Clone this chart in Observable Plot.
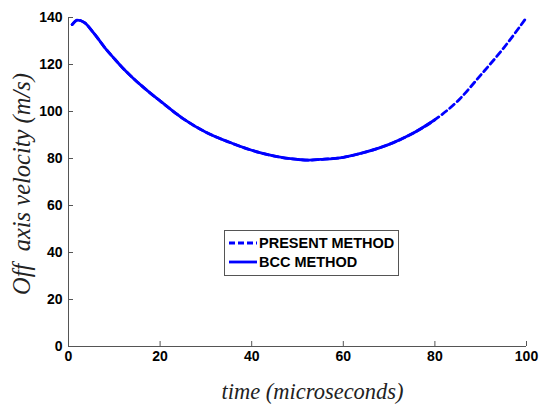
<!DOCTYPE html>
<html>
<head>
<meta charset="utf-8">
<script src="https://cdn.jsdelivr.net/npm/d3@7"></script>
<script src="https://cdn.jsdelivr.net/npm/@observablehq/plot@0.6"></script>
<style>
  html, body { margin: 0; padding: 0; background: #fff; }
  #wrap { position: relative; width: 539px; height: 409px; }
  #legend {
    position: absolute; left: 224px; top: 230px; width: 175px; height: 46px;
    border: 1px solid #555; background: #fff; box-sizing: border-box;
    font-family: "Liberation Sans", Arial, sans-serif; font-weight: bold; font-size: 14.5px; color: #000;
  }
  .row { position: absolute; left: 4px; display: flex; align-items: center; height: 18px; white-space: nowrap; }
  .row svg { margin-right: 2px; }
</style>
</head>
<body>
<div id="wrap"><div id="legend"></div></div>
<script>
const time = [0.8, 2, 3.5, 5.5, 8, 10, 12, 14, 16, 18, 20, 25, 30, 35, 40, 45, 50, 52.5, 55, 60, 65, 70, 75, 80, 85, 90, 95, 100];
const presentMethod = [137, 138.9, 137.8, 133.4, 127, 122.5, 118.2, 114.4, 110.9, 107.6, 104.5, 97, 91.2, 87, 83.5, 81, 79.6, 79.3, 79.6, 80.5, 82.8, 86, 90.5, 96.5, 104.5, 115.5, 127, 140];
const bccMethod = [137, 138.9, 137.8, 133.4, 127, 122.5, 118.2, 114.4, 110.9, 107.6, 104.5, 97, 91.2, 87, 83.5, 81, 79.6, 79.3, 79.6, 80.5, 82.8, 86, 90.5, 96.5, null, null, null, null];
const xTicks = [0, 20, 40, 60, 80, 100];
const yTicks = [0, 20, 40, 60, 80, 100, 120, 140];
const seriesNames = ["PRESENT METHOD", "BCC METHOD"];
const xLabel = "time (microseconds)";
const yLabel = "Off  axis velocity (m/s)";

const present = time.map((t, i) => ({t, v: presentMethod[i]}));
const bcc = time.map((t, i) => ({t, v: bccMethod[i]})).filter(d => d.v != null);

const chart = Plot.plot({
  width: 539,
  height: 409,
  marginLeft: 68,
  marginRight: 13,
  marginTop: 17,
  marginBottom: 63,
  style: {fontFamily: "'Liberation Sans', Arial, sans-serif", fontSize: "14px", fontWeight: "bold", color: "#000", background: "#fff"},
  x: {domain: [0, 100]},
  y: {domain: [0, 140]},
  marks: [
    Plot.axisX({ticks: xTicks, tickSize: -5, tickPadding: 10, label: null, stroke: "#555"}),
    Plot.axisY({ticks: yTicks, tickSize: -5, tickPadding: 11, label: null, stroke: "#555"}),
    Plot.ruleX([0], {stroke: "#555"}),
    Plot.ruleY([0], {stroke: "#555"}),
    Plot.line(present, {x: "t", y: "v", stroke: "#0000ff", strokeWidth: 2.8, strokeDasharray: "6,4", curve: "monotone-x"}),
    Plot.line(bcc, {x: "t", y: "v", stroke: "#0000ff", strokeWidth: 2.8, curve: "monotone-x"}),
    Plot.text([xLabel], {frameAnchor: "bottom", dy: 52, dx: 15, fontFamily: "'Liberation Serif', 'Times New Roman', serif", fontStyle: "italic", fontWeight: "normal", fontSize: 22.5, fill: "#222"}),
    Plot.text([yLabel], {frameAnchor: "left", textAnchor: "middle", rotate: -90, dx: -46, dy: 2, fontFamily: "'Liberation Serif', 'Times New Roman', serif", fontStyle: "italic", fontWeight: "normal", fontSize: 24.5, fill: "#222"})
  ]
});
document.getElementById("wrap").prepend(chart);

const legend = document.getElementById("legend");
seriesNames.forEach((name, i) => {
  const row = document.createElement("div");
  row.className = "row";
  row.style.top = (3 + i * 19) + "px";
  const dash = i === 0 ? "6,3" : "none";
  row.innerHTML = `<svg width="28" height="6"><line x1="0" y1="3" x2="28" y2="3" stroke="#0000ff" stroke-width="2.8" stroke-dasharray="${dash}"/></svg><span>${name}</span>`;
  legend.appendChild(row);
});
</script>
</body>
</html>
